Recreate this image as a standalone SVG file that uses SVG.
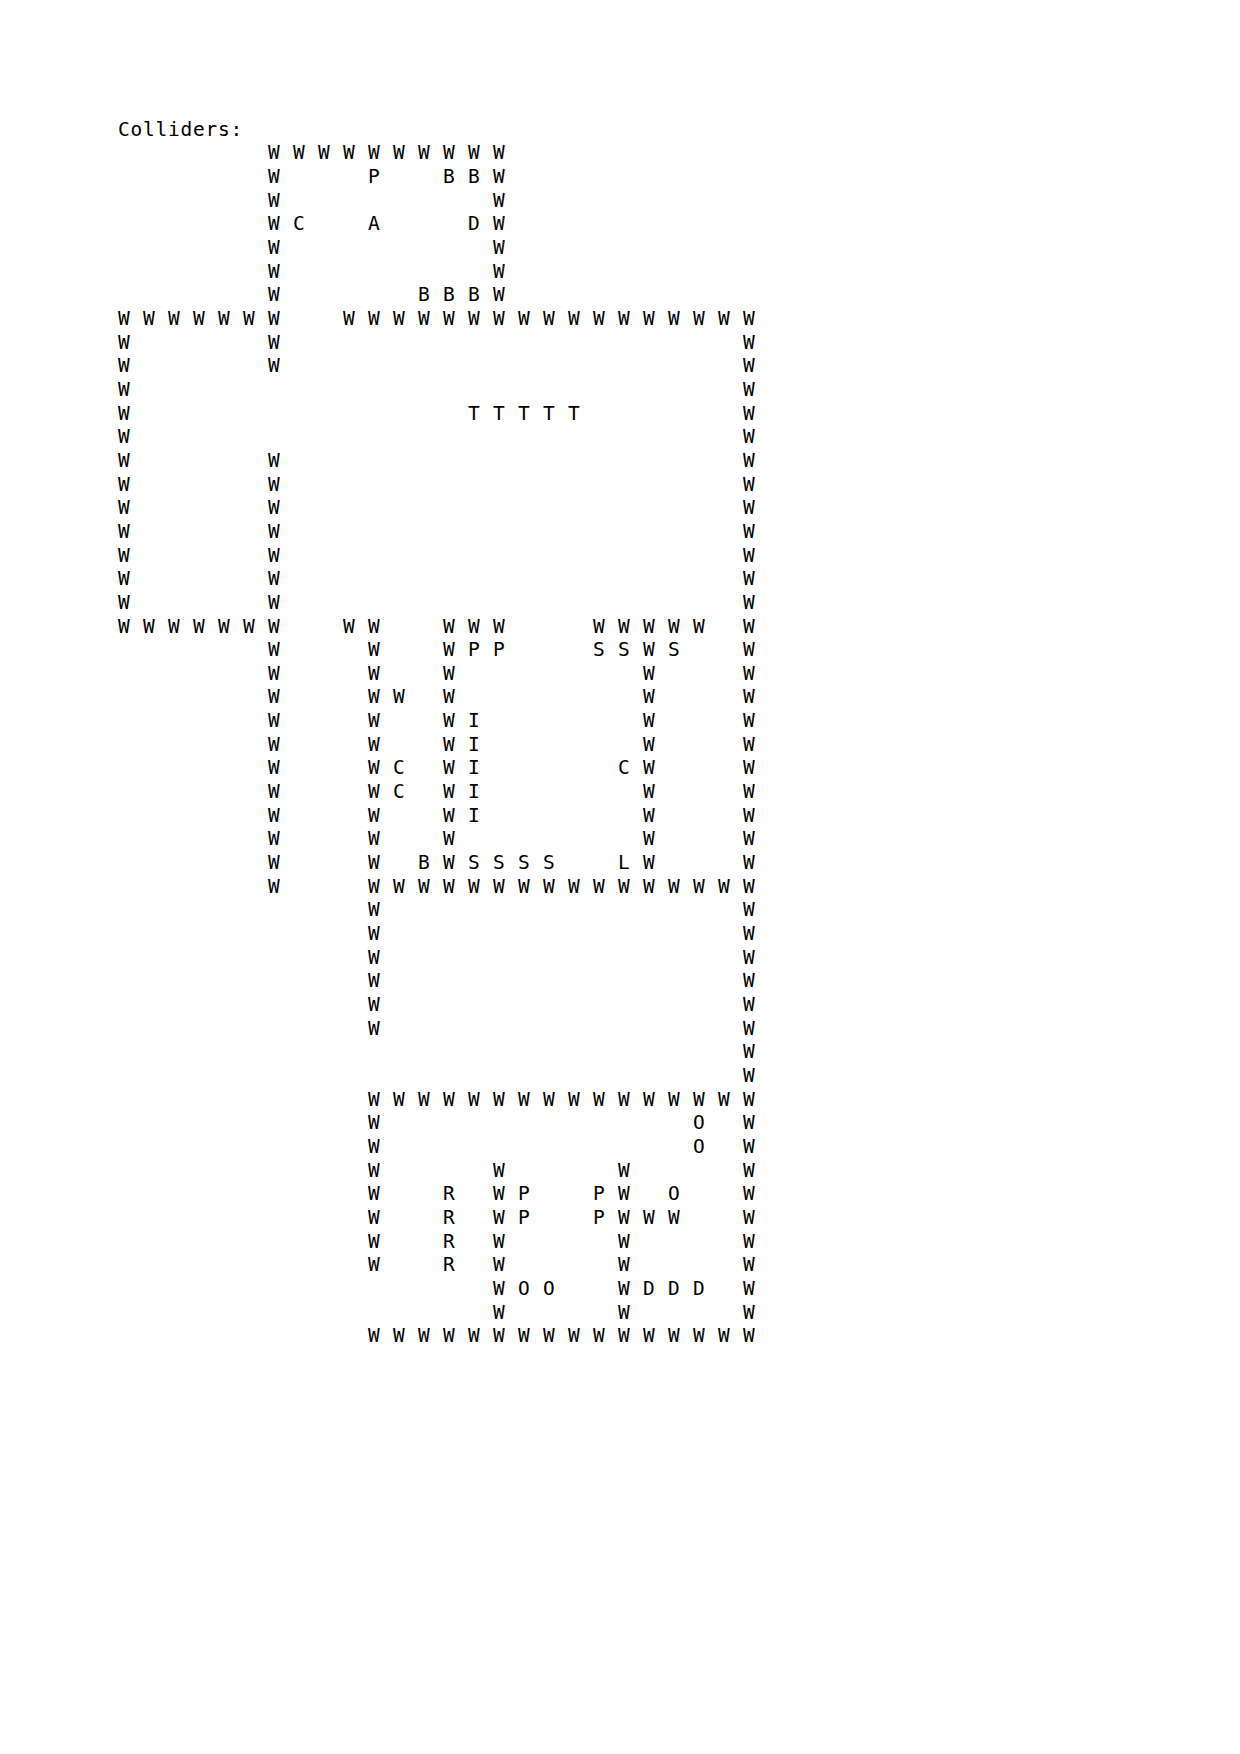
<svg xmlns="http://www.w3.org/2000/svg" width="1240" height="1754" viewBox="0 0 1240 1754">
<style>
text{font-family:"DejaVu Sans Mono","Liberation Mono",monospace;font-size:19.5px;letter-spacing:0.76px;fill:#000}
</style>
<rect width="1240" height="1754" fill="#fff"/>
<g id="title"><text x="118" y="135.6">Colliders:</text></g>
<g id="grid">
<text y="159.3"><tspan x="268">W W W W W W W W W W</tspan></text>
<text y="182.96"><tspan x="268">W</tspan><tspan x="368">P</tspan><tspan x="443">B B W</tspan></text>
<text y="206.62"><tspan x="268">W</tspan><tspan x="493">W</tspan></text>
<text y="230.28"><tspan x="268">W C</tspan><tspan x="368">A</tspan><tspan x="468">D W</tspan></text>
<text y="253.94"><tspan x="268">W</tspan><tspan x="493">W</tspan></text>
<text y="277.6"><tspan x="268">W</tspan><tspan x="493">W</tspan></text>
<text y="301.26"><tspan x="268">W</tspan><tspan x="418">B B B W</tspan></text>
<text y="324.92"><tspan x="118">W W W W W W W</tspan><tspan x="343">W W W W W W W W W W W W W W W W W</tspan></text>
<text y="348.58"><tspan x="118">W</tspan><tspan x="268">W</tspan><tspan x="743">W</tspan></text>
<text y="372.24"><tspan x="118">W</tspan><tspan x="268">W</tspan><tspan x="743">W</tspan></text>
<text y="395.9"><tspan x="118">W</tspan><tspan x="743">W</tspan></text>
<text y="419.56"><tspan x="118">W</tspan><tspan x="468">T T T T T</tspan><tspan x="743">W</tspan></text>
<text y="443.22"><tspan x="118">W</tspan><tspan x="743">W</tspan></text>
<text y="466.88"><tspan x="118">W</tspan><tspan x="268">W</tspan><tspan x="743">W</tspan></text>
<text y="490.54"><tspan x="118">W</tspan><tspan x="268">W</tspan><tspan x="743">W</tspan></text>
<text y="514.2"><tspan x="118">W</tspan><tspan x="268">W</tspan><tspan x="743">W</tspan></text>
<text y="537.86"><tspan x="118">W</tspan><tspan x="268">W</tspan><tspan x="743">W</tspan></text>
<text y="561.52"><tspan x="118">W</tspan><tspan x="268">W</tspan><tspan x="743">W</tspan></text>
<text y="585.18"><tspan x="118">W</tspan><tspan x="268">W</tspan><tspan x="743">W</tspan></text>
<text y="608.84"><tspan x="118">W</tspan><tspan x="268">W</tspan><tspan x="743">W</tspan></text>
<text y="632.5"><tspan x="118">W W W W W W W</tspan><tspan x="343">W W</tspan><tspan x="443">W W W</tspan><tspan x="593">W W W W W</tspan><tspan x="743">W</tspan></text>
<text y="656.16"><tspan x="268">W</tspan><tspan x="368">W</tspan><tspan x="443">W P P</tspan><tspan x="593">S S W S</tspan><tspan x="743">W</tspan></text>
<text y="679.82"><tspan x="268">W</tspan><tspan x="368">W</tspan><tspan x="443">W</tspan><tspan x="643">W</tspan><tspan x="743">W</tspan></text>
<text y="703.48"><tspan x="268">W</tspan><tspan x="368">W W</tspan><tspan x="443">W</tspan><tspan x="643">W</tspan><tspan x="743">W</tspan></text>
<text y="727.14"><tspan x="268">W</tspan><tspan x="368">W</tspan><tspan x="443">W I</tspan><tspan x="643">W</tspan><tspan x="743">W</tspan></text>
<text y="750.8"><tspan x="268">W</tspan><tspan x="368">W</tspan><tspan x="443">W I</tspan><tspan x="643">W</tspan><tspan x="743">W</tspan></text>
<text y="774.46"><tspan x="268">W</tspan><tspan x="368">W C</tspan><tspan x="443">W I</tspan><tspan x="618">C W</tspan><tspan x="743">W</tspan></text>
<text y="798.12"><tspan x="268">W</tspan><tspan x="368">W C</tspan><tspan x="443">W I</tspan><tspan x="643">W</tspan><tspan x="743">W</tspan></text>
<text y="821.78"><tspan x="268">W</tspan><tspan x="368">W</tspan><tspan x="443">W I</tspan><tspan x="643">W</tspan><tspan x="743">W</tspan></text>
<text y="845.44"><tspan x="268">W</tspan><tspan x="368">W</tspan><tspan x="443">W</tspan><tspan x="643">W</tspan><tspan x="743">W</tspan></text>
<text y="869.1"><tspan x="268">W</tspan><tspan x="368">W</tspan><tspan x="418">B W S S S S</tspan><tspan x="618">L W</tspan><tspan x="743">W</tspan></text>
<text y="892.76"><tspan x="268">W</tspan><tspan x="368">W W W W W W W W W W W W W W W W</tspan></text>
<text y="916.42"><tspan x="368">W</tspan><tspan x="743">W</tspan></text>
<text y="940.08"><tspan x="368">W</tspan><tspan x="743">W</tspan></text>
<text y="963.74"><tspan x="368">W</tspan><tspan x="743">W</tspan></text>
<text y="987.4"><tspan x="368">W</tspan><tspan x="743">W</tspan></text>
<text y="1011.06"><tspan x="368">W</tspan><tspan x="743">W</tspan></text>
<text y="1034.72"><tspan x="368">W</tspan><tspan x="743">W</tspan></text>
<text y="1058.38"><tspan x="743">W</tspan></text>
<text y="1082.04"><tspan x="743">W</tspan></text>
<text y="1105.7"><tspan x="368">W W W W W W W W W W W W W W W W</tspan></text>
<text y="1129.36"><tspan x="368">W</tspan><tspan x="693">O</tspan><tspan x="743">W</tspan></text>
<text y="1153.02"><tspan x="368">W</tspan><tspan x="693">O</tspan><tspan x="743">W</tspan></text>
<text y="1176.68"><tspan x="368">W</tspan><tspan x="493">W</tspan><tspan x="618">W</tspan><tspan x="743">W</tspan></text>
<text y="1200.34"><tspan x="368">W</tspan><tspan x="443">R</tspan><tspan x="493">W P</tspan><tspan x="593">P W</tspan><tspan x="668">O</tspan><tspan x="743">W</tspan></text>
<text y="1224"><tspan x="368">W</tspan><tspan x="443">R</tspan><tspan x="493">W P</tspan><tspan x="593">P W W W</tspan><tspan x="743">W</tspan></text>
<text y="1247.66"><tspan x="368">W</tspan><tspan x="443">R</tspan><tspan x="493">W</tspan><tspan x="618">W</tspan><tspan x="743">W</tspan></text>
<text y="1271.32"><tspan x="368">W</tspan><tspan x="443">R</tspan><tspan x="493">W</tspan><tspan x="618">W</tspan><tspan x="743">W</tspan></text>
<text y="1294.98"><tspan x="493">W O O</tspan><tspan x="618">W D D D</tspan><tspan x="743">W</tspan></text>
<text y="1318.64"><tspan x="493">W</tspan><tspan x="618">W</tspan><tspan x="743">W</tspan></text>
<text y="1342.3"><tspan x="368">W W W W W W W W W W W W W W W W</tspan></text>
</g>
</svg>
